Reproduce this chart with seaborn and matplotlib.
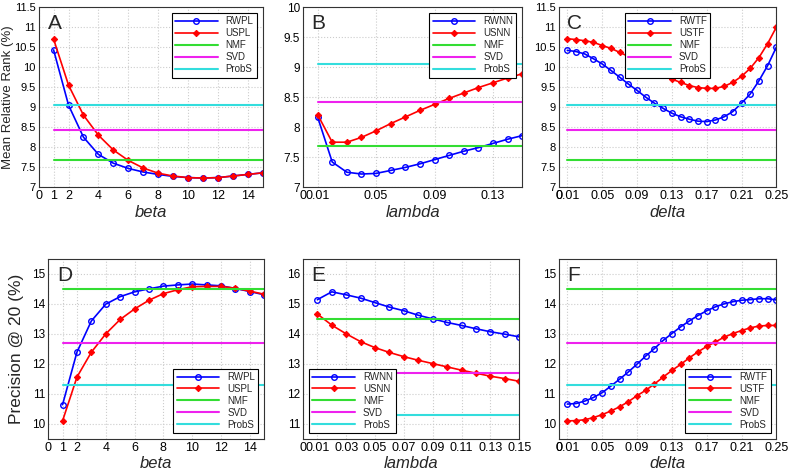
import numpy as np
import seaborn as sns
import matplotlib
matplotlib.use("Agg")
import matplotlib.pyplot as plt

# ---- data ----
beta = list(range(1, 16))
lam = [round(0.01 * i, 2) for i in range(1, 16)]
delta = [round(0.01 * i, 2) for i in range(1, 26)]

# mean relative rank (%)
mrr_rwpl = [10.43, 9.05, 8.25, 7.82, 7.60, 7.47, 7.38, 7.32, 7.27, 7.24, 7.23, 7.24, 7.28, 7.32, 7.36]
mrr_uspl = [10.70, 9.55, 8.80, 8.30, 7.93, 7.67, 7.48, 7.35, 7.28, 7.24, 7.23, 7.24, 7.28, 7.32, 7.36]
mrr_rwnn = [8.17, 7.42, 7.25, 7.22, 7.23, 7.28, 7.33, 7.39, 7.46, 7.53, 7.60, 7.66, 7.73, 7.80, 7.86]
mrr_usnn = [8.21, 7.75, 7.75, 7.83, 7.94, 8.06, 8.17, 8.28, 8.38, 8.48, 8.57, 8.66, 8.74, 8.82, 8.89]
mrr_rwtf = [10.42, 10.39, 10.33, 10.21, 10.08, 9.92, 9.75, 9.58, 9.42, 9.25, 9.10, 8.97, 8.85,
            8.76, 8.70, 8.65, 8.64, 8.68, 8.76, 8.89, 9.10, 9.33, 9.66, 10.04, 10.50]
mrr_ustf = [10.71, 10.69, 10.66, 10.62, 10.54, 10.47, 10.37, 10.27, 10.16, 10.03, 9.91, 9.80, 9.70,
            9.62, 9.54, 9.49, 9.47, 9.47, 9.52, 9.62, 9.77, 9.97, 10.24, 10.59, 11.00]
mrr_base = {"NMF": 7.68, "SVD": 8.42, "ProbS": 9.05}

# precision @ 20 (%)
p20_rwpl = [10.64, 12.39, 13.43, 13.99, 14.24, 14.40, 14.50, 14.59, 14.63, 14.66, 14.63, 14.60, 14.51, 14.41, 14.30]
p20_uspl = [10.10, 11.56, 12.39, 13.00, 13.48, 13.83, 14.12, 14.34, 14.47, 14.57, 14.58, 14.58, 14.52, 14.42, 14.32]
p20_rwnn = [15.14, 15.40, 15.30, 15.19, 15.04, 14.89, 14.77, 14.62, 14.50, 14.38, 14.28, 14.17, 14.07, 13.99, 13.90]
p20_usnn = [14.66, 14.29, 14.00, 13.74, 13.54, 13.38, 13.24, 13.12, 13.01, 12.90, 12.79, 12.69, 12.59, 12.51, 12.42]
p20_rwtf = [10.66, 10.68, 10.76, 10.88, 11.04, 11.26, 11.49, 11.73, 11.99, 12.26, 12.51, 12.78, 13.01,
            13.23, 13.43, 13.61, 13.77, 13.90, 14.00, 14.07, 14.12, 14.14, 14.17, 14.17, 14.13]
p20_ustf = [10.10, 10.11, 10.14, 10.21, 10.31, 10.43, 10.57, 10.74, 10.94, 11.12, 11.33, 11.56, 11.78,
            11.98, 12.20, 12.40, 12.58, 12.73, 12.89, 13.01, 13.11, 13.20, 13.26, 13.28, 13.28]
p20_base = {"NMF": 14.48, "SVD": 12.71, "ProbS": 11.29}

sns.set_style("whitegrid")
plt.rcParams["font.family"] = ["Liberation Sans", "DejaVu Sans"]

base_colors = {"NMF": "#33dd33", "SVD": "#ee22ee", "ProbS": "#33dddd"}

fig = plt.figure(figsize=(7.89, 4.74), dpi=100)

rects = {
    "A": [0.049, 0.605, 0.284, 0.380],
    "B": [0.384, 0.605, 0.278, 0.380],
    "C": [0.708, 0.605, 0.276, 0.380],
    "D": [0.061, 0.074, 0.274, 0.380],
    "E": [0.384, 0.074, 0.274, 0.380],
    "F": [0.708, 0.074, 0.276, 0.380],
}

panels = [
    ("A", beta, mrr_rwpl, mrr_uspl, ("RWPL", "USPL"), mrr_base, "beta",
     (0, 15), [0, 1, 2, 4, 6, 8, 10, 12, 14], (7, 11.5), np.arange(7, 11.51, 0.5), "upper right"),
    ("B", lam, mrr_rwnn, mrr_usnn, ("RWNN", "USNN"), mrr_base, "lambda",
     (0, 0.15), [0, 0.01, 0.05, 0.09, 0.13], (7, 10), np.arange(7, 10.01, 0.5), "upper right"),
    ("C", delta, mrr_rwtf, mrr_ustf, ("RWTF", "USTF"), mrr_base, "delta",
     (0, 0.25), [0, 0.01, 0.05, 0.09, 0.13, 0.17, 0.21, 0.25], (7, 11.5), np.arange(7, 11.51, 0.5), "upper center"),
    ("D", beta, p20_rwpl, p20_uspl, ("RWPL", "USPL"), p20_base, "beta",
     (0, 15), [0, 1, 2, 4, 6, 8, 10, 12, 14], (9.5, 15.5), np.arange(10, 15.1, 1), "lower right"),
    ("E", lam, p20_rwnn, p20_usnn, ("RWNN", "USNN"), p20_base, "lambda",
     (0, 0.15), [0, 0.01, 0.03, 0.05, 0.07, 0.09, 0.11, 0.13, 0.15], (10.5, 16.5), np.arange(11, 16.1, 1), "lower left"),
    ("F", delta, p20_rwtf, p20_ustf, ("RWTF", "USTF"), p20_base, "delta",
     (0, 0.25), [0, 0.01, 0.05, 0.09, 0.13, 0.17, 0.21, 0.25], (9.5, 15.5), np.arange(10, 15.1, 1), "lower right"),
]

def fmt(v):
    if float(v).is_integer():
        return str(int(v))
    return ("%g" % v)

for letter, x, y_rw, y_us, names, base, xlab, xlim, xt, ylim, yt, loc in panels:
    ax = fig.add_axes(rects[letter])
    sns.lineplot(x=x, y=y_rw, ax=ax, color="blue", lw=1.2, marker="o", markersize=4,
                 markerfacecolor="none", markeredgecolor="blue", markeredgewidth=1.0, label=names[0])
    sns.lineplot(x=x, y=y_us, ax=ax, color="red", lw=1.2, marker="D", markersize=3.2,
                 markerfacecolor="red", markeredgecolor="red", label=names[1])
    for name, val in base.items():
        ax.plot([x[0], x[-1]], [val, val], color=base_colors[name], lw=1.5, label=name)

    ax.set_xlim(*xlim)
    ax.set_ylim(*ylim)
    ax.set_xticks(xt)
    ax.set_xticklabels([fmt(v) for v in xt])
    ax.set_yticks(yt)
    ax.set_yticklabels([fmt(v) for v in yt])
    ax.tick_params(labelsize=8.5, direction="in", length=3, pad=2, colors="black")
    ax.tick_params(axis="x", labelsize=9)
    if letter in ("A", "C"):
        ax.tick_params(axis="y", labelsize=8)
    ax.grid(True, color="#cccccc", linestyle=":", linewidth=0.8)
    for s in ax.spines.values():
        s.set_color("#333333")
        s.set_linewidth(0.8)
    ax.set_xlabel(xlab, fontsize=12, fontstyle="italic", labelpad=2)
    ax.set_ylabel("")
    ax.text(0.04, 0.96, letter, transform=ax.transAxes, fontsize=15, va="top", ha="left")

    leg = ax.legend(loc=loc, fontsize=7, frameon=True, fancybox=False, numpoints=1,
                    handlelength=4.4, borderpad=0.35, labelspacing=0.2, handletextpad=0.8,
                    borderaxespad=0.6)
    leg.get_frame().set_edgecolor("black")
    leg.get_frame().set_linewidth(0.8)
    leg.get_frame().set_alpha(1)

    if letter == "A":
        ax.set_ylabel("Mean Relative Rank (%)", fontsize=9.5)
        ax.yaxis.set_label_coords(-0.112, 0.5)
    if letter == "D":
        ax.set_ylabel("Precision @ 20 (%)", fontsize=12.5)
        ax.yaxis.set_label_coords(-0.11, 0.5)

fig.savefig("out.png", dpi=100)
